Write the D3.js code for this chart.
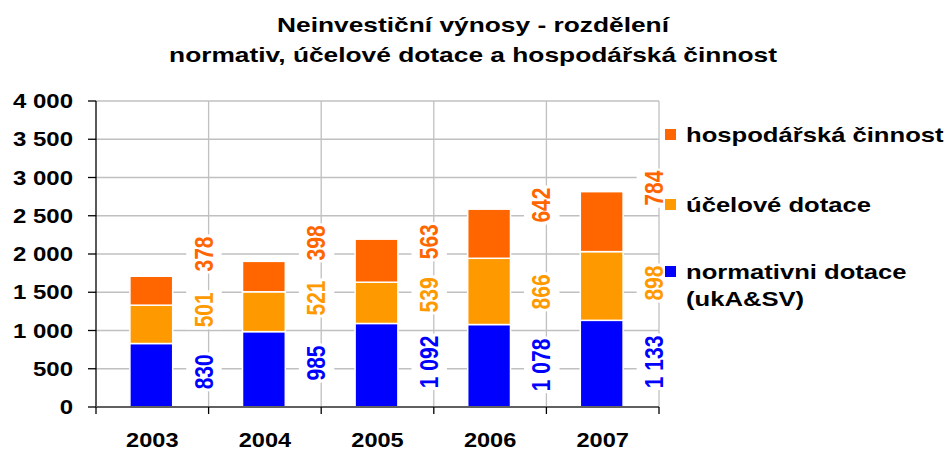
<!DOCTYPE html>
<html>
<head>
<meta charset="utf-8">
<script src="https://cdn.jsdelivr.net/npm/d3@7"></script>
<style>
  body { margin: 0; background: #fff; }
  svg { display: block; font-family: "Liberation Sans", Arial, sans-serif; font-weight: bold; }
</style>
</head>
<body>
<svg id="chart" width="947" height="451"></svg>
<script>
const years = ['2003', '2004', '2005', '2006', '2007'];
const normativ = [830, 985, 1092, 1078, 1133];
const ucelove = [501, 521, 539, 866, 898];
const hospodarska = [378, 398, 563, 642, 784];
// where each data label sits on the value axis
const normLabelAt = [460, 575, 590, 550, 590];
const ucelLabelAt = [1270, 1425, 1465, 1505, 1620];
const hospLabelAt = [2000, 2145, 2160, 2640, 2860];
const yTicks = [0, 500, 1000, 1500, 2000, 2500, 3000, 3500, 4000];
const titleLines = ['Neinvestiční výnosy - rozdělení', 'normativ, účelové dotace a hospodářská činnost'];

const series = [
  { name: 'normativni dotace', lines: ['normativni dotace', '(ukA&SV)'], values: normativ, labelAt: normLabelAt, color: '#0000ff' },
  { name: 'účelové dotace', lines: ['účelové dotace'], values: ucelove, labelAt: ucelLabelAt, color: '#ff9900' },
  { name: 'hospodářská činnost', lines: ['hospodářská činnost'], values: hospodarska, labelAt: hospLabelAt, color: '#ff6600' }
];

const svg = d3.select('#chart');
const sx = 1.2;  // text in the original looks stretched sideways

const plot = { left: 96, right: 659, top: 101, bottom: 407 };

const x = d3.scaleBand().domain(years).range([plot.left, plot.right]).padding(0);
const y = d3.scaleLinear().domain([0, 4000]).range([plot.bottom, plot.top]);

const cz = d3.formatLocale({ decimal: ',', thousands: '\u00a0', grouping: [3], currency: ['', ''] });
const fmt = cz.format(',d');

// title
svg.selectAll('.title')
  .data(titleLines)
  .enter().append('text')
  .attr('class', 'title')
  .attr('transform', (d, i) => `translate(473,${32 + i * 30}) scale(1.35,1)`)
  .attr('text-anchor', 'middle')
  .attr('font-size', 19.5)
  .attr('fill', '#000')
  .text(d => d);

// horizontal gridlines
svg.append('g')
  .selectAll('line')
  .data(yTicks.filter(d => d > 0))
  .enter().append('line')
  .attr('x1', plot.left).attr('x2', plot.right)
  .attr('y1', d => y(d)).attr('y2', d => y(d))
  .attr('stroke', '#c0c0c0').attr('stroke-width', 1.3);

// vertical gridlines at category boundaries
const bounds = years.slice(1).map(d => x(d)).concat([plot.right]);
svg.append('g')
  .selectAll('line')
  .data(bounds)
  .enter().append('line')
  .attr('x1', d => d).attr('x2', d => d)
  .attr('y1', plot.top).attr('y2', plot.bottom)
  .attr('stroke', '#c0c0c0').attr('stroke-width', 1.3);

// stacked bars
const stack = years.map((yr, i) => {
  let acc = 0;
  return series.map(s => {
    const seg = { year: yr, y0: acc, y1: acc + s.values[i], s: s, i: i };
    acc += s.values[i];
    return seg;
  });
});

const barW = x.bandwidth() * 0.38;
svg.append('g')
  .selectAll('rect')
  .data(stack.flat())
  .enter().append('rect')
  .attr('x', d => x(d.year) + (x.bandwidth() - barW) / 2 - 1)
  .attr('width', barW)
  .attr('y', d => y(d.y1))
  .attr('height', d => y(d.y0) - y(d.y1))
  .attr('fill', d => d.s.color)
  .attr('stroke', '#fff')
  .attr('stroke-width', 1.5);

// y axis
const yAxis = svg.append('g');
yAxis.append('line')
  .attr('x1', plot.left).attr('x2', plot.left).attr('y1', plot.top).attr('y2', plot.bottom)
  .attr('stroke', '#000').attr('stroke-width', 1.3);
yAxis.selectAll('.tick')
  .data(yTicks)
  .enter().append('line')
  .attr('class', 'tick')
  .attr('x1', plot.left - 8).attr('x2', plot.left)
  .attr('y1', d => y(d)).attr('y2', d => y(d))
  .attr('stroke', '#000').attr('stroke-width', 1.3);
yAxis.selectAll('text')
  .data(yTicks)
  .enter().append('text')
  .attr('transform', d => `translate(73,${y(d) + 7}) scale(${sx},1)`)
  .attr('text-anchor', 'end')
  .attr('font-size', 20)
  .text(d => fmt(d));

// x axis
const xAxis = svg.append('g');
xAxis.append('line')
  .attr('x1', plot.left).attr('x2', plot.right).attr('y1', plot.bottom).attr('y2', plot.bottom)
  .attr('stroke', '#606060').attr('stroke-width', 2);
xAxis.selectAll('.tick')
  .data([plot.left].concat(bounds))
  .enter().append('line')
  .attr('class', 'tick')
  .attr('x1', d => d).attr('x2', d => d)
  .attr('y1', plot.bottom).attr('y2', plot.bottom + 7)
  .attr('stroke', '#000').attr('stroke-width', 1.3);
xAxis.selectAll('text')
  .data(years)
  .enter().append('text')
  .attr('transform', d => `translate(${x(d) + x.bandwidth() / 2},447) scale(1.15,1)`)
  .attr('text-anchor', 'middle')
  .attr('font-size', 20.5)
  .text(d => d);

// data labels, rotated, on a white box
const labels = svg.append('g')
  .selectAll('g')
  .data(stack.flat())
  .enter().append('g')
  .attr('transform', d => `translate(${x(d.year) + x.bandwidth() - 5},${y(d.s.labelAt[d.i])}) scale(${sx},1) rotate(-90)`);

labels.append('text')
  .attr('text-anchor', 'middle')
  .attr('dy', '0.36em')
  .attr('font-size', 21)
  .attr('fill', d => d.s.color)
  .text(d => fmt(d.s.values[d.i]));

labels.each(function () {
  const g = d3.select(this);
  const b = g.select('text').node().getBBox();
  g.insert('rect', 'text')
    .attr('x', b.x - 2).attr('y', b.y - 3)
    .attr('width', b.width + 4).attr('height', b.height + 6)
    .attr('fill', '#fff');
});

// legend, top item first
const legendY = [135, 205, 272];
const legend = svg.append('g')
  .selectAll('g')
  .data(series.slice().reverse())
  .enter().append('g')
  .attr('transform', (d, i) => `translate(665,${legendY[i]})`);

legend.append('rect')
  .attr('x', 0).attr('y', -6)
  .attr('width', 11).attr('height', 11)
  .attr('fill', d => d.color);

legend.each(function (d) {
  const g = d3.select(this);
  d.lines.forEach((ln, k) => {
    g.append('text')
      .attr('transform', `translate(21,${7 + k * 27}) scale(1.25,1)`)
      .attr('font-size', 20.5)
      .attr('fill', '#000')
      .text(ln);
  });
});
</script>
</body>
</html>
